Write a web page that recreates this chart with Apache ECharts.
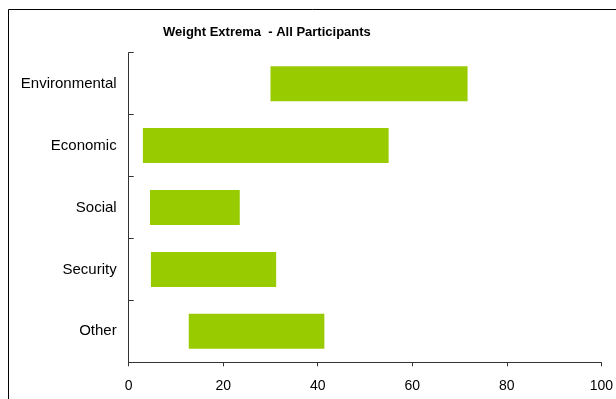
<!DOCTYPE html>
<html>
<head>
<meta charset="utf-8">
<script src="https://cdn.jsdelivr.net/npm/echarts@6/dist/echarts.min.js"></script>
<style>
  html, body { margin: 0; padding: 0; background: #fff; }
  #chart { width: 616px; height: 399px; }
</style>
</head>
<body>
<div id="chart"></div>
<script>
// Lowest and highest weight per category
const categories = ['Environmental', 'Economic', 'Social', 'Security', 'Other'];
const minWeights = [30, 3, 4.5, 4.7, 12.7];
const maxWeights = [71.7, 55, 23.5, 31.2, 41.4];
const xTicks = [0, 20, 40, 60, 80, 100];

const spans = maxWeights.map((v, i) => +(v - minWeights[i]).toFixed(2));

const chart = echarts.init(document.getElementById('chart'), null, { renderer: 'canvas' });
const font = 'Arial, "Liberation Sans", sans-serif';

chart.setOption({
  animation: false,
  backgroundColor: '#fff',
  title: {
    text: 'Weight Extrema  - All Participants',
    left: 163,
    top: 26,
    padding: 0,
    textStyle: { fontFamily: font, fontSize: 13, fontWeight: 'bold', color: '#000' }
  },
  graphic: [{
    type: 'rect',
    shape: { x: 8.5, y: 9.5, width: 620, height: 420 },
    style: { fill: 'none', stroke: '#000', lineWidth: 1 },
    silent: true,
    z: -1
  }],
  grid: { left: 128.7, top: 52.7, width: 474.6, height: 309.6, containLabel: false },
  xAxis: {
    type: 'value',
    min: xTicks[0],
    max: xTicks[xTicks.length - 1],
    interval: 20,
    splitLine: { show: false },
    axisLine: { show: true, lineStyle: { color: '#333', width: 1 } },
    axisTick: { show: true, length: 4, lineStyle: { color: '#333' } },
    axisLabel: { fontFamily: font, fontSize: 14, color: '#000', margin: 17 }
  },
  yAxis: {
    type: 'category',
    data: categories,
    inverse: true,
    axisLine: { show: true, lineStyle: { color: '#333', width: 1 } },
    axisTick: { show: true, inside: true, length: 5, lineStyle: { color: '#333' } },
    axisLabel: { fontFamily: font, fontSize: 15, color: '#000', margin: 12, lineHeight: 20, padding: [5, 0, 0, 0] }
  },
  series: [
    {
      name: 'min',
      type: 'bar',
      stack: 'range',
      data: minWeights,
      barWidth: 35,
      itemStyle: { color: 'transparent' },
      silent: true
    },
    {
      name: 'range',
      type: 'bar',
      stack: 'range',
      data: spans,
      barWidth: 35,
      itemStyle: { color: '#99CC00' }
    }
  ]
});
</script>
</body>
</html>
